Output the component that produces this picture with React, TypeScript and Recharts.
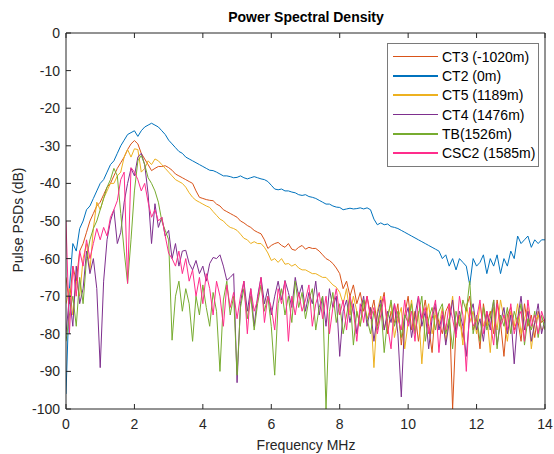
import React from "react";
import { Line, LineChart, XAxis, YAxis } from "recharts";

// PSD readings, 0.1 MHz apart from 0 to 14 MHz (one row = 1 MHz)
const CT3 = [
  -65, -72, -62, -66, -58, -56, -53, -50, -48, -46,
  -45, -43, -41, -40, -38, -36, -34.5, -33, -31, -29.5,
  -28.6, -29.5, -32, -33.5, -35, -36.6, -36, -35.5, -35.5, -35.3,
  -35.8, -36.5, -37.5, -38, -38.5, -39, -39.5, -40, -42, -43.7,
  -44, -44.3, -44.5, -44.6, -45.5, -46, -47, -47.5, -48, -48.5,
  -49, -50, -50.5, -51.2, -51.7, -52.5, -53, -53.4, -55, -57.3,
  -56.5, -56, -55.7, -56.5, -57, -56, -57.5, -57.8, -57, -56.5,
  -57.5, -57, -57.3, -57.3, -58, -59, -60, -60.5, -61.3, -62.5,
  -64, -68, -66, -70, -67, -72, -69, -74, -70, -75,
  -71, -78, -73, -69, -80, -74, -77, -72, -83, -75,
  -70, -79, -74, -82, -76, -71, -78, -85, -73, -77,
  -80, -74, -72, -100, -78, -75, -81, -73, -70, -79,
  -76, -84, -72, -78, -74, -80, -71, -77, -86, -75,
  -73, -79, -76, -82, -72, -78, -75, -81, -74, -77,
  -76,
];

const CT2 = [
  -96, -68, -56, -58, -52, -50, -47, -46, -44, -42,
  -40, -39, -37, -35, -34, -32, -30, -28.5, -27, -26.5,
  -26, -27.5, -26, -25, -24.5, -24, -24.5, -25, -26, -27,
  -28.5, -29.5, -30.5, -31.5, -32, -33, -33.5, -34, -34.5, -35,
  -35.5, -36, -36.5, -36.6, -37, -37.5, -38, -38, -38.2, -38.5,
  -38.4, -38, -38.5, -38.8, -38.5, -38.2, -38.5, -38.8, -39, -39.5,
  -40.5, -41.5, -41.7, -41.5, -42, -42, -42.3, -42.5, -43, -43.2,
  -43, -43.5, -43.7, -44, -44.5, -45, -45.5, -45.5, -46, -46.3,
  -46.4, -47, -46.8, -46.6, -46.8, -46.7, -46.5, -46.8, -46.5, -47,
  -49.5, -51, -50.5, -51, -50.8, -51.5, -51.7, -52, -52.5, -53,
  -53.5, -54, -54.5, -55, -55.5, -56, -56.5, -57, -57.5, -58,
  -60, -59, -62, -60, -63, -60, -61, -62, -67, -60,
  -62, -61, -59, -64, -60, -62, -59, -64, -60, -62,
  -58, -60, -54, -56, -55, -54, -57, -55, -56, -55,
  -55,
];

const CT5 = [
  -72, -68, -75, -66, -70, -60, -56, -63, -52, -45,
  -47, -44, -42, -40, -40, -38, -37, -33, -31, -33,
  -30.8, -31, -37, -36, -34, -35, -33.5, -34, -35, -36,
  -37, -38, -39, -39.5, -40, -41, -42.5, -43.7, -44.5, -45,
  -45.5, -46, -46.4, -47.5, -48.5, -49.5, -50, -51, -51.7, -52,
  -52.5, -53.5, -54.6, -55, -56, -55.5, -56, -56, -57, -58.5,
  -60.5, -60, -61, -60, -61.5, -61.3, -62, -61.5, -62.5, -63,
  -63, -63.5, -64, -64, -64.5, -65, -65, -66, -67, -67.6,
  -69, -72, -68, -75, -70, -74, -78, -71, -76, -73,
  -89, -74, -70, -79, -75, -72, -81, -76, -73, -84,
  -77, -71, -79, -74, -88, -76, -72, -80, -75, -78,
  -73, -82, -76, -70, -79, -75, -83, -72, -77, -74,
  -80, -72, -78, -75, -85, -73, -79, -71, -76, -82,
  -74, -78, -72, -80, -76, -73, -84, -77, -75, -79,
  -78,
];

const CT4 = [
  -80, -70, -78, -62, -72, -68, -58, -64, -60, -68,
  -89, -66, -55, -50, -47, -56, -53, -45, -40, -36,
  -38, -33, -32, -35, -42.8, -56, -45.4, -51.7, -49, -54,
  -52.5, -60, -56, -62, -58, -57.8, -61.3, -63, -60.5, -64,
  -62, -66, -61.3, -59.7, -60, -59, -62, -65.8, -65, -64,
  -93, -72, -66, -74, -68, -78, -70, -65, -72, -68,
  -75, -70, -66, -71, -65.8, -69, -73, -65, -70, -67,
  -74, -69, -72, -66, -75, -70, -78, -68, -73, -70,
  -86, -74, -71, -77, -72, -80, -74, -70, -78, -73,
  -82, -75, -71, -79, -74, -77, -72, -80, -96.8, -76,
  -73, -81, -75, -70, -78, -74, -84, -76, -72, -79,
  -75, -83, -77, -71, -80, -74, -78, -86, -75, -72,
  -79, -76, -82, -74, -79, -71, -83, -77, -73, -80,
  -75, -88, -76, -70, -79, -74, -82, -77, -72, -80,
  -76,
];

const TB = [
  -82, -75, -70, -78, -65, -72, -60, -55, -52, -50,
  -47, -44, -41, -39, -36, -38, -48, -58, -66.6, -55,
  -42, -34, -32.6, -35, -38.5, -40, -42, -45, -50, -52.5,
  -55, -81.7, -70, -66, -74, -68, -72, -82, -70, -75,
  -67, -73, -78, -69, -74, -90, -71, -66, -75, -70,
  -91, -73, -68, -76, -70, -79, -72, -67, -74, -70,
  -78, -91, -72, -68, -75, -70, -77, -66, -73, -69,
  -76, -71, -68, -79, -73, -70, -100, -74, -69, -77,
  -72, -80, -75, -70, -83, -74, -78, -71, -76, -80,
  -74, -79, -72, -85, -76, -71, -78, -74, -81, -75,
  -77, -72, -80, -75, -70, -82, -76, -73, -79, -74,
  -72, -80, -76, -84, -74, -78, -71, -74, -66, -80,
  -75, -82, -73, -79, -76, -71, -84, -75, -78, -73,
  -80, -74, -77, -72, -83, -76, -79, -74, -81, -75,
  -79,
];

const CSC2 = [
  -50, -80, -62, -70, -58, -62, -55, -60, -56, -52,
  -55, -51.7, -54, -49, -47, -44.6, -39, -37, -66.6, -35.8,
  -37, -39, -42, -40, -45, -49, -47, -50, -49, -54,
  -58.6, -60, -62, -58, -64, -60, -66, -63, -70, -65,
  -72, -64, -68, -75, -66, -70, -78, -67, -73, -69,
  -76, -70, -66, -80, -68, -74, -71, -65, -77, -70,
  -73, -79, -68, -72, -66, -82, -70, -75, -69, -74,
  -71, -67, -78, -72, -69, -76, -70, -80, -73, -68,
  -75, -71, -79, -70, -74, -82, -72, -77, -70, -76,
  -73, -80, -75, -70, -78, -84, -72, -76, -79, -71,
  -78, -74, -82, -70, -76, -73, -80, -75, -71, -85,
  -74, -79, -72, -76, -81, -70, -75, -90, -73, -78,
  -76, -71, -80, -74, -77, -83, -72, -78, -75, -79,
  -72, -80, -76, -74, -82, -71, -78, -75, -80, -74,
  -77,
];

const FREQ_STEP = 0.1;
const X_TICKS = [0, 2, 4, 6, 8, 10, 12, 14];
const Y_TICKS = [0, -10, -20, -30, -40, -50, -60, -70, -80, -90, -100];

const SERIES = [
  { key: "ct3", name: "CT3 (-1020m)", values: CT3, color: "#D95319" },
  { key: "ct2", name: "CT2 (0m)", values: CT2, color: "#0072BD" },
  { key: "ct5", name: "CT5 (1189m)", values: CT5, color: "#EDB120" },
  { key: "ct4", name: "CT4 (1476m)", values: CT4, color: "#7E2F8E" },
  { key: "tb", name: "TB(1526m)", values: TB, color: "#77AC30" },
  { key: "csc2", name: "CSC2 (1585m)", values: CSC2, color: "#FF2D8C" },
];

const data = CT2.map((_, i) => {
  const row: Record<string, number> = { f: +(i * FREQ_STEP).toFixed(1) };
  SERIES.forEach((s) => (row[s.key] = s.values[i]));
  return row;
});

const AXIS = "#262626";
const FONT = "'Liberation Sans', Arial, sans-serif";

function XTick({ x, y, payload, top }: any) {
  return (
    <g>
      <line x1={x} x2={x} y1={y} y2={top ? y + 5 : y - 5} stroke={AXIS} />
      {!top && (
        <text x={x} y={y + 20} textAnchor="middle" fontSize={14} fill={AXIS} fontFamily={FONT}>
          {payload.value}
        </text>
      )}
    </g>
  );
}

function YTick({ x, y, payload, right }: any) {
  return (
    <g>
      <line x1={x} x2={right ? x - 5 : x + 5} y1={y} y2={y} stroke={AXIS} />
      {!right && (
        <text x={x - 6} y={y + 5} textAnchor="end" fontSize={14} fill={AXIS} fontFamily={FONT}>
          {payload.value}
        </text>
      )}
    </g>
  );
}

function LegendBox() {
  return (
    <div
      style={{
        position: "absolute", left: 387, top: 43, width: 140,
        border: "1px solid #7a7a7a", background: "#fff",
        padding: "3px 5px", fontFamily: FONT, fontSize: 14, color: "#000",
        whiteSpace: "nowrap",
      }}
    >
      {SERIES.map((s) => (
        <div key={s.key} style={{ display: "flex", alignItems: "center", height: 19.3 }}>
          <span style={{ width: 45, height: 1.5, background: s.color, marginRight: 4, flex: "none" }} />
          <span>{s.name}</span>
        </div>
      ))}
    </div>
  );
}

export default function App() {
  return (
    <div style={{ position: "absolute", left: 0, top: 0, width: 554, height: 454, background: "#fff" }}>
      <div
        style={{
          position: "absolute", left: 66, width: 480, top: 9, textAlign: "center",
          fontFamily: FONT, fontWeight: "bold", fontSize: 14, color: "#000",
        }}
      >
        Power Spectral Density
      </div>
      <div
        style={{
          position: "absolute", left: 66, width: 480, top: 437, textAlign: "center",
          fontFamily: FONT, fontSize: 14, color: AXIS,
        }}
      >
        Frequency MHz
      </div>
      <div
        style={{
          position: "absolute", left: 18, top: 220, transform: "translate(-50%, -50%) rotate(-90deg)",
          whiteSpace: "nowrap", fontFamily: FONT, fontSize: 14, color: AXIS,
        }}
      >
        Pulse PSDs (dB)
      </div>
      <LineChart width={554} height={454} data={data} margin={{ top: 32, right: 8, bottom: 0, left: 0 }}>
        <XAxis
          dataKey="f" type="number" domain={[0, 14]} ticks={X_TICKS} height={45}
          stroke={AXIS} tickLine={false} tickSize={0} tickMargin={0} tick={<XTick />} allowDataOverflow
        />
        <XAxis
          xAxisId="top" orientation="top" dataKey="f" type="number" domain={[0, 14]} ticks={X_TICKS}
          height={1} stroke={AXIS} tickLine={false} tickSize={0} tickMargin={0} tick={<XTick top />}
        />
        <YAxis
          type="number" domain={[-100, 0]} ticks={Y_TICKS} width={66} stroke={AXIS}
          tickLine={false} tickSize={0} tickMargin={0} tick={<YTick />} allowDataOverflow
        />
        <YAxis
          yAxisId="right" orientation="right" type="number" domain={[-100, 0]} ticks={Y_TICKS} width={1}
          stroke={AXIS} tickLine={false} tickSize={0} tickMargin={0} tick={<YTick right />}
        />
        {SERIES.map((s) => (
          <Line
            key={s.key} dataKey={s.key} name={s.name} type="linear" stroke={s.color}
            strokeWidth={1} dot={false} isAnimationActive={false}
          />
        ))}
      </LineChart>
      <LegendBox />
    </div>
  );
}
